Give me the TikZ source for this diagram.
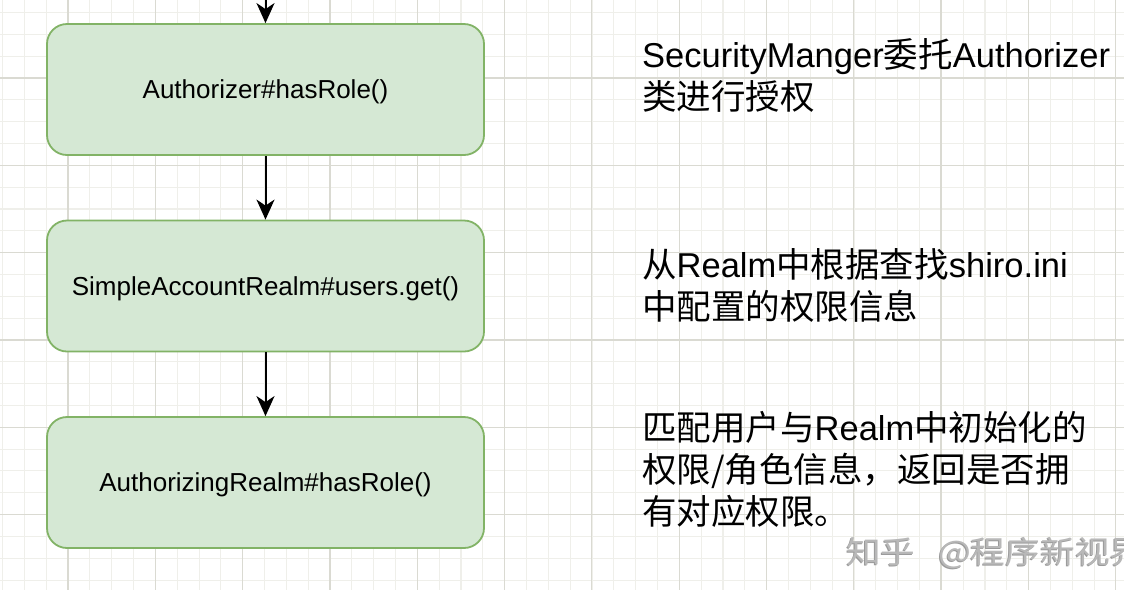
\documentclass[tikz,border=0pt]{standalone}
\usepackage{fontspec}
\setmainfont{Liberation Sans}
\newfontfamily\cjk{Noto Sans CJK SC}
\usetikzlibrary{arrows.meta}
\definecolor{boxfill}{HTML}{D5E8D4}
\definecolor{boxborder}{HTML}{82B366}
\definecolor{gridminor}{HTML}{EFEFEA}
\definecolor{gridmajor}{HTML}{DADAD2}
\definecolor{wmark}{HTML}{B8B8B8}
\definecolor{wmarkdark}{HTML}{9A9A9A}
\tikzset{
  stepbox/.style={draw=boxborder, fill=boxfill, line width=1.8pt, rounded corners=20pt,
    minimum width=437pt, minimum height=131pt, inner sep=0pt, text height=24.6pt, text depth=6pt,
    font=\fontsize{26}{30}\selectfont},
  flow/.style={draw=black, line width=2pt, -{Stealth[length=20pt,width=18pt,inset=6pt]}},
  note/.style={anchor=base west, inner sep=0pt, font=\fontsize{34.5}{42}\selectfont},
  minorline/.style={draw=gridminor, line width=1.1pt},
  majorline/.style={draw=gridmajor, line width=1.2pt},
  wmstyle/.style={anchor=base west, inner sep=0pt, font=\cjk\fontsize{31}{31}\selectfont}
}
\begin{document}
\begin{tikzpicture}[x=1pt,y=-1pt]
\useasboundingbox (0,0) rectangle (1124,590);
\clip (0,0) rectangle (1124,590);
\fill[white] (0,0) rectangle (1124,590);
% grid
\foreach \i in {0,...,51} {\draw[minorline] ({2.6+\i*21.83},0) -- ({2.6+\i*21.83},590);}
\foreach \i in {0,...,27} {\draw[minorline] (0,{12.5+\i*21.83}) -- (1124,{12.5+\i*21.83});}
\foreach \i in {-1,...,12} {\draw[majorline] ({68+\i*87.3},0) -- ({68+\i*87.3},590);}
\foreach \i in {-1,...,6} {\draw[majorline] (0,{78+\i*87.3}) -- (1124,{78+\i*87.3});}
% boxes
\node[stepbox] (b1) at (265.5,89.5) {Authorizer\#hasRole()};
\node[stepbox] (b2) at (265.5,286) {SimpleAccountRealm\#users.get()};
\node[stepbox] (b3) at (265.5,482.5) {AuthorizingRealm\#hasRole()};
% connectors
\coordinate (top) at (265.5,-2);
\draw[flow] (top) -- (b1.north);
\draw[flow] (b1.south) -- (b2.north);
\draw[flow] (b2.south) -- (b3.north);
% notes
\node[note] (n1a) at (642,67) {SecurityManger{\cjk 委托}Authorizer};
\node[note] (n1b) at (642,109) {\cjk 类进行授权};
\node[note] (n2a) at (642,277) {{\cjk 从}Realm{\cjk 中根据查找}shiro.ini};
\node[note] (n2b) at (642,319) {\cjk 中配置的权限信息};
\node[note] (n3a) at (642,440) {{\cjk 匹配用户与}Realm{\cjk 中初始化的}};
\node[note] (n3b) at (642,482) {\cjk 权限/角色信息，返回是否拥};
\node[note] (n3c) at (642,524) {\cjk 有对应权限。};
% watermark
\node[wmstyle, text=wmarkdark] (wm2) at (845,564) {\scalebox{1.12}[1]{知乎\hspace{20pt}@程序新视界}};
\node[wmstyle, text=wmark] (wm) at (846,563) {\scalebox{1.12}[1]{知乎\hspace{20pt}@程序新视界}};
\end{tikzpicture}
\end{document}
